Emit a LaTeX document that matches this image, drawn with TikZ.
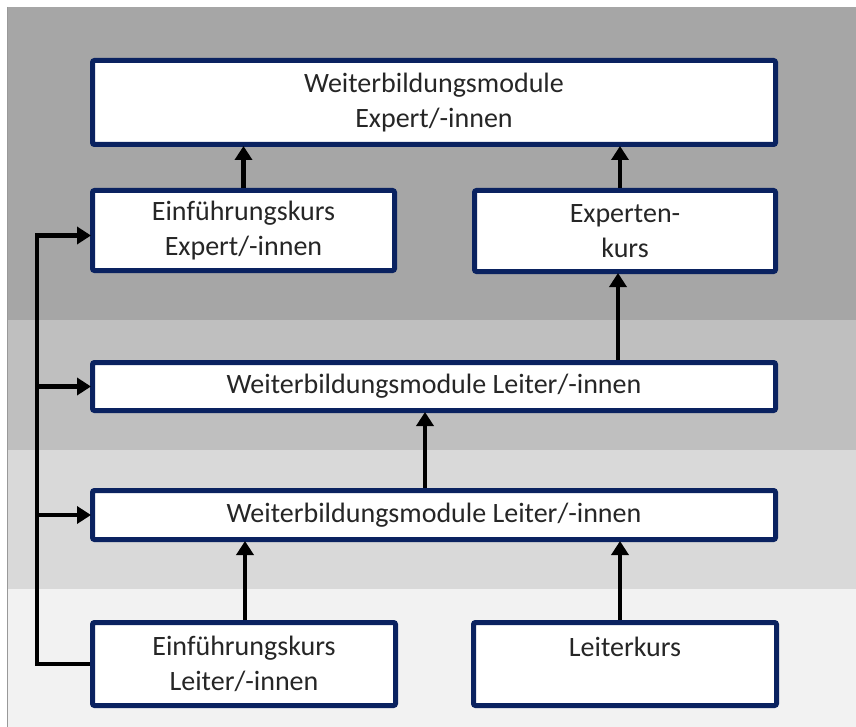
\documentclass[tikz,border=0pt]{standalone}
\usepackage{fontspec}
\setmainfont{Carlito}
\usetikzlibrary{arrows.meta}
\definecolor{navy}{RGB}{10,34,96}
\definecolor{bandA}{RGB}{166,166,166}
\definecolor{bandB}{RGB}{191,191,191}
\definecolor{bandC}{RGB}{217,217,217}
\definecolor{bandD}{RGB}{242,242,242}
\definecolor{txt}{RGB}{38,38,38}
\tikzset{
  box/.style={draw=navy, line width=5pt, fill=white, rounded corners=2pt,
    align=center, inner sep=0pt, text=txt,
    font=\fontsize{28}{35}\selectfont},
  conn/.style={line width=4.5pt, draw=black},
  arr/.style={conn, -{Triangle[width=17pt,length=14pt]}, shorten >=-1pt},
}
\begin{document}
\begin{tikzpicture}[x=1pt,y=-1pt]
\useasboundingbox (0,0) rectangle (856,727);
% background bands
\fill[white] (0,0) rectangle (856,727);
\fill[bandA] (7,7) rectangle (856,320);
\fill[bandB] (7,320) rectangle (856,450);
\fill[bandC] (7,450) rectangle (856,589);
\fill[bandD] (7,589) rectangle (856,727);
\draw[gray!80, line width=1.5pt] (7.5,7) -- (7.5,727);

% boxes
\node[box, minimum width=683, minimum height=84] (top) at (434,102.5)
  {Weiterbildungsmodule\\Expert/-innen};
\node[box, minimum width=302, minimum height=80] (ee) at (243.5,230.5)
  {Einführungskurs\\Expert/-innen};
\node[box, minimum width=301, minimum height=81] (ek) at (625,231)
  {Experten-\\kurs};
\node[box, minimum width=683, minimum height=48] (w1) at (434,386.5)
  {Weiterbildungsmodule Leiter/-innen};
\node[box, minimum width=683, minimum height=49] (w2) at (434,515)
  {Weiterbildungsmodule Leiter/-innen};
\node[box, minimum width=303, minimum height=83] (el) at (244,664)
  {Einführungskurs\\Leiter/-innen};
\node[box, minimum width=303, minimum height=83] (lk) at (625,664)
  {Leiterkurs\\\phantom{L}};

\coordinate (trunk) at (37,0);

% vertical arrows
\draw[arr] (ee.north) -- (ee.north |- top.south);
\draw[arr] ([xshift=-5pt]ek.north) -- ([xshift=-5pt]ek.north |- top.south);
\draw[arr] ([xshift=-7pt]w1.north -| ek.north) -- ([xshift=-7pt]ek.south);
\draw[arr] ([xshift=-9pt]w2.north) -- ([xshift=-9pt]w1.south);
\draw[arr] ([xshift=1pt]el.north) -- ([xshift=1pt]el.north |- w2.south);
\draw[arr] ([xshift=-5pt]lk.north) -- ([xshift=-5pt]lk.north |- w2.south);

% left trunk
\draw[arr, line join=miter] (el.west) -| ([yshift=-5pt]trunk |- ee.west) -- ([yshift=-5pt]ee.west);
\draw[arr] (trunk |- w1.west) -- (w1.west);
\draw[arr] (trunk |- w2.west) -- (w2.west);
\end{tikzpicture}
\end{document}
